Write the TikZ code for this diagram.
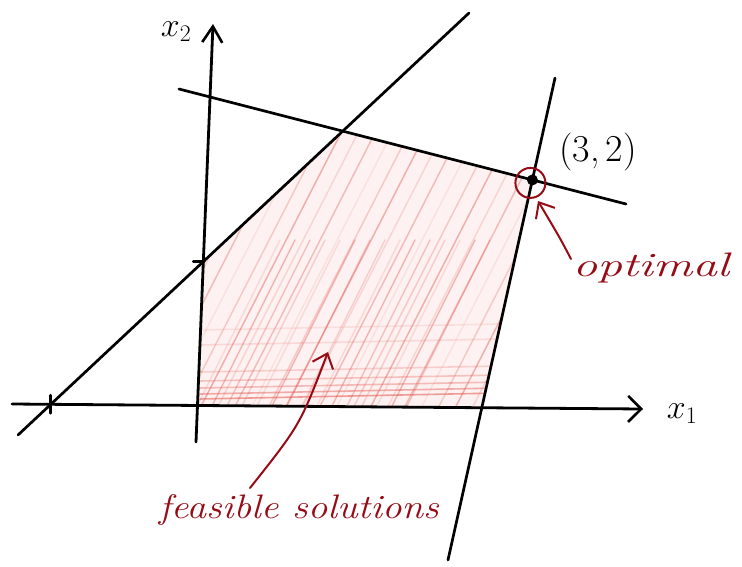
\RequirePackage{fix-cm}
\documentclass[tikz,border=0pt]{standalone}
\usetikzlibrary{arrows.meta}
\definecolor{ink}{RGB}{150,12,22}
\definecolor{hatch}{RGB}{226,86,76}
\begin{document}
\begin{tikzpicture}[x=1pt,y=-1pt,line cap=round,line join=round,
  axisline/.style={line width=2.8pt,black},
  pen/.style={line width=2.7pt,black},
  redpen/.style={line width=2pt,ink},
  redarrow/.style={line width=2pt,ink,-{Straight Barb[length=13pt,width=22pt,line width=2pt]}},
  hand/.style={ink,font=\fontsize{34}{40}\selectfont\itshape,transform shape},
  axislabel/.style={font=\fontsize{34}{40}\selectfont}]
\useasboundingbox (0,0) rectangle (742,566);
\fill[white] (0,0) rectangle (742,566);
% line end points
\coordinate (dA) at (18,435);  \coordinate (dB) at (469,13);
\coordinate (uA) at (179,89);  \coordinate (uB) at (626,204);
\coordinate (sA) at (555,78);  \coordinate (sB) at (448,560);
\coordinate (xA) at (12,404);  \coordinate (xB) at (643,409);
\coordinate (yA) at (196,442); \coordinate (yB) at (213,24);
% vertices of the feasible region
\coordinate (opt) at (intersection of uA--uB and sA--sB);
\coordinate (P1) at (intersection of dA--dB and uA--uB);
\coordinate (P2) at (intersection of dA--dB and yA--yB);
\coordinate (P3) at (intersection of xA--xB and sA--sB);
\coordinate (P0) at (intersection of xA--xB and yA--yB);
% shading
\fill[hatch!8] (P0)--(P2)--(P1)--(opt)--(P3)--cycle;
\begin{scope}
  \clip (P0)--(P2)--(P1)--(opt)--(P3)--cycle;
  \foreach \i [evaluate=\i as \op using {0.1+0.08*mod(\i*7,5)}] in {0,...,40}
    \draw[hatch,line width=1.5pt,opacity=\op] (\i*17-180,420) -- ++(215,-420);
  \foreach \i [evaluate=\i as \op using {0.15+0.08*mod(\i*3,4)}] in {0,...,14}
    \draw[hatch,line width=1.5pt,opacity=\op] (\i*15+190,420) -- ++(90,-180);
  \foreach \yy/\op in {399/0.55,394/0.45,388/0.35,381/0.3,372/0.22,345/0.15,330/0.12}
    \draw[hatch,line width=1.6pt,opacity=\op] (200,\yy) -- (500,\yy-6);
\end{scope}
% lines
\draw[pen] (dA) -- (dB);
\draw[pen] (uA) -- (uB);
\draw[pen] (sA) -- (sB);
\draw[axisline,-{Straight Barb[length=13pt,width=26pt,line width=2.6pt]}] (xA) -- (xB);
\draw[axisline,-{Straight Barb[length=16pt,width=20pt,line width=2.6pt]}] (yA) -- (yB);
% ticks
\coordinate (t1) at (intersection of dA--dB and xA--xB);
\draw[pen] (t1) ++(0,-9) -- ++(0,18);
\draw[pen] (P2) ++(-10,0) -- ++(11,0);
% labels
\node[axislabel] (lx2) at (176,32) {$x_2$};
\node[axislabel] (lx1) at (682,414) {$x_1$};
\node[font=\fontsize{38}{44}\selectfont] (lopt) at (598,152) {(3,\,2)};
% optimum
\draw[redpen] (opt) ++(-2,3) circle (15);
\fill[black] (opt) circle (5.5);
\node[hand,xscale=1.45] (loptimal) at (651,268) {optimal};
\coordinate (optTail) at (571,259);
\coordinate (optTip) at (538,201);
\draw[redarrow] (optTail) .. controls (560,238) .. (optTip);
\node[hand,xscale=1.15] (lfeas) at (299,510) {feasible solutions};
\coordinate (feasTail) at (250,488);
\coordinate (feasTip) at (328,352);
\draw[redarrow] (feasTail) .. controls (300,425) .. (feasTip);
\end{tikzpicture}
\end{document}
